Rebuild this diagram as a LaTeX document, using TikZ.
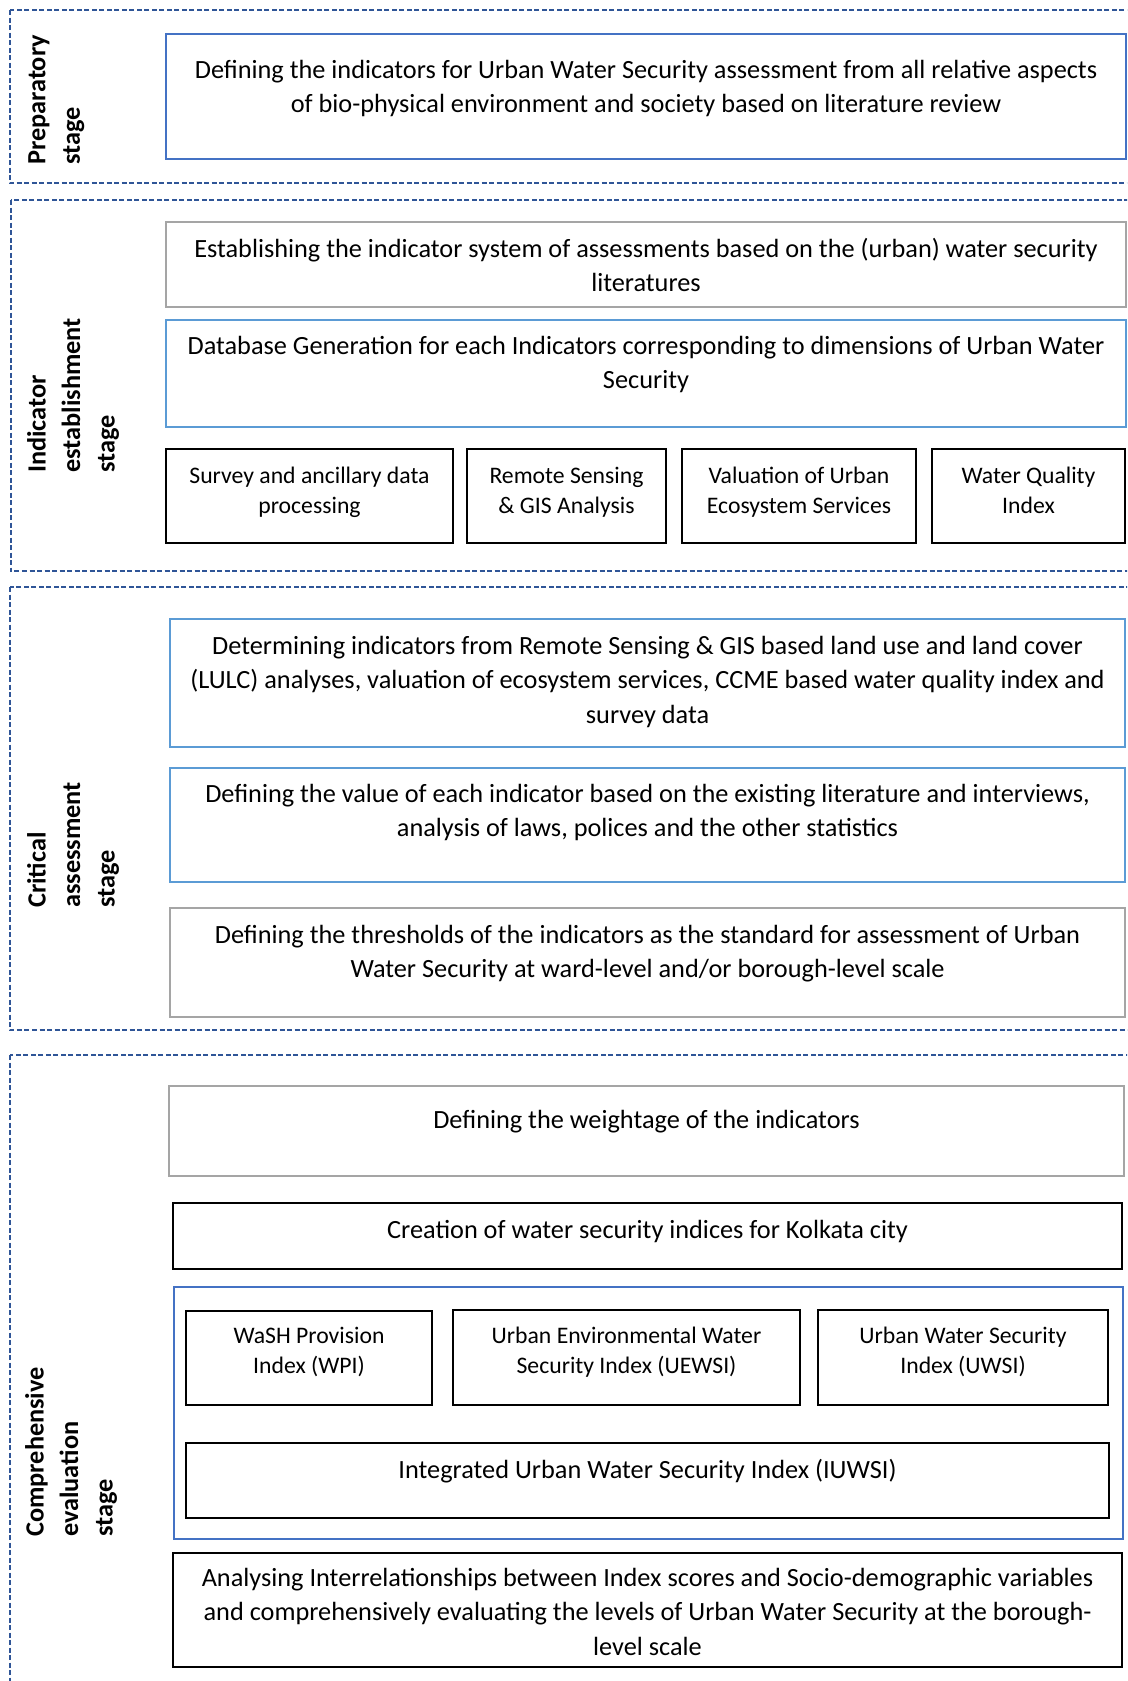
\documentclass[tikz,border=0pt]{standalone}
\usepackage{fontspec}
\setmainfont{Carlito}
\usetikzlibrary{fit}
\definecolor{dashblue}{HTML}{2F5597}
\definecolor{boxblue}{HTML}{4472C4}
\definecolor{lightblue}{HTML}{5B9BD5}
\definecolor{boxgray}{HTML}{A5A5A5}
\tikzset{
  stagebox/.style={draw=dashblue, line width=2pt, dash pattern=on 5pt off 2.5pt},
  frame/.style={rectangle, inner sep=0pt, line width=2pt},
  bluebox/.style={frame, draw=boxblue},
  lblue/.style={frame, draw=lightblue, line width=2.5pt},
  graybox/.style={frame, draw=boxgray, line width=2.5pt},
  blackbox/.style={frame, draw=black, line width=2.8pt},
  txt/.style={anchor=base, align=center, inner sep=0pt, font=\fontsize{26.3}{34.5}\selectfont},
  smalltxt/.style={anchor=base, align=center, inner sep=0pt, font=\fontsize{23.7}{30.5}\selectfont},
  stagelbl/.style={rotate=90, anchor=north west, align=left, inner sep=0pt, font=\fontsize{26.3}{34.5}\selectfont\bfseries},
}
\begin{document}
\begin{tikzpicture}[x=1pt,y=-1pt]
\clip (0,0) rectangle (1127,1681);
\fill[white] (0,0) rectangle (1127,1681);

% stage frames
\draw[stagebox] (9.5,10) rectangle (1140,183);
\draw[stagebox] (10.5,200) rectangle (1140,571);
\draw[stagebox] (10,587) rectangle (1140,1030);
\draw[stagebox] (9.5,1055) rectangle (1140,1700);

% stage labels
\node[stagelbl] (lprep) at (28,165) {Preparatory\\stage};
\node[stagelbl] (lind) at (27,473) {Indicator\\establishment\\stage};
\node[stagelbl] (lcrit) at (27,908) {Critical\\assessment\\stage};
\node[stagelbl] (lcomp) at (25,1537) {Comprehensive\\evaluation\\stage};

% preparatory
\node[bluebox, fit={(166,34) (1126,159)}] (prep) {};
\node[txt] (prepT) at (646,112.5) {Defining the indicators for Urban Water Security assessment from all relative aspects\\of bio-physical environment and society based on literature review};

% indicator establishment
\node[graybox, fit={(166,222) (1126,307)}] (estab) {};
\node[txt] (estabT) at (646,291.5) {Establishing the indicator system of assessments based on the (urban) water security\\literatures};
\node[lblue, fit={(166,320) (1126,427)}] (dbase) {};
\node[txt] (dbaseT) at (646,388.5) {Database Generation for each Indicators corresponding to dimensions of Urban Water\\Security};
\node[blackbox, fit={(166,449) (453,543)}] (survey) {};
\node[smalltxt] (surveyT) at (309.5,513.5) {Survey and ancillary data\\processing};
\node[blackbox, fit={(467,449) (666,543)}] (rs) {};
\node[smalltxt] (rsT) at (566.5,513.5) {Remote Sensing\\\& GIS Analysis};
\node[blackbox, fit={(682,449) (916,543)}] (ues) {};
\node[smalltxt] (uesT) at (799,513.5) {Valuation of Urban\\Ecosystem Services};
\node[blackbox, fit={(932,449) (1125,543)}] (wqi) {};
\node[smalltxt] (wqiT) at (1028.5,513.5) {Water Quality\\Index};

% critical assessment
\node[lblue, fit={(170,619) (1125,747)}] (det) {};
\node[txt] (detT) at (647.5,723) {Determining indicators from Remote Sensing \& GIS based land use and land cover\\(LULC) analyses, valuation of ecosystem services, CCME based water quality index and\\survey data};
\node[lblue, fit={(170,768) (1125,882)}] (val) {};
\node[txt] (valT) at (647.5,836.5) {Defining the value of each indicator based on the existing literature and interviews,\\analysis of laws, polices and the other statistics};
\node[graybox, fit={(170,908) (1125,1017)}] (thr) {};
\node[txt] (thrT) at (647.5,977.5) {Defining the thresholds of the indicators as the standard for assessment of Urban\\Water Security at ward-level and/or borough-level scale};

% comprehensive evaluation
\node[graybox, fit={(169,1086) (1124,1176)}] (wgt) {};
\node[txt] (wgtT) at (646.5,1128) {Defining the weightage of the indicators};
\node[blackbox, fit={(173,1203) (1122,1269)}] (cre) {};
\node[txt] (creT) at (647.5,1238) {Creation of water security indices for Kolkata city};
\node[bluebox, line width=2.2pt, fit={(174,1287) (1123,1539)}] (idx) {};
\node[blackbox, line width=2.5pt, fit={(186,1311) (432,1405)}] (wpi) {};
\node[smalltxt] (wpiT) at (309,1373.5) {WaSH Provision\\Index (WPI)};
\node[blackbox, line width=2.5pt, fit={(453,1310) (800,1405)}] (uewsi) {};
\node[smalltxt] (uewsiT) at (626.5,1373.5) {Urban Environmental Water\\Security Index (UEWSI)};
\node[blackbox, line width=2.5pt, fit={(818,1310) (1108,1405)}] (uwsi) {};
\node[smalltxt] (uwsiT) at (963,1373.5) {Urban Water Security\\Index (UWSI)};
\node[blackbox, line width=2.5pt, fit={(186,1443) (1109,1518)}] (iuwsi) {};
\node[txt] (iuwsiT) at (647.5,1478) {Integrated Urban Water Security Index (IUWSI)};
\node[blackbox, line width=2.5pt, fit={(173,1553) (1122,1667)}] (ana) {};
\node[txt] (anaT) at (647.5,1655) {Analysing Interrelationships between Index scores and Socio-demographic variables\\and comprehensively evaluating the levels of Urban Water Security at the borough-\\level scale};
\end{tikzpicture}
\end{document}
